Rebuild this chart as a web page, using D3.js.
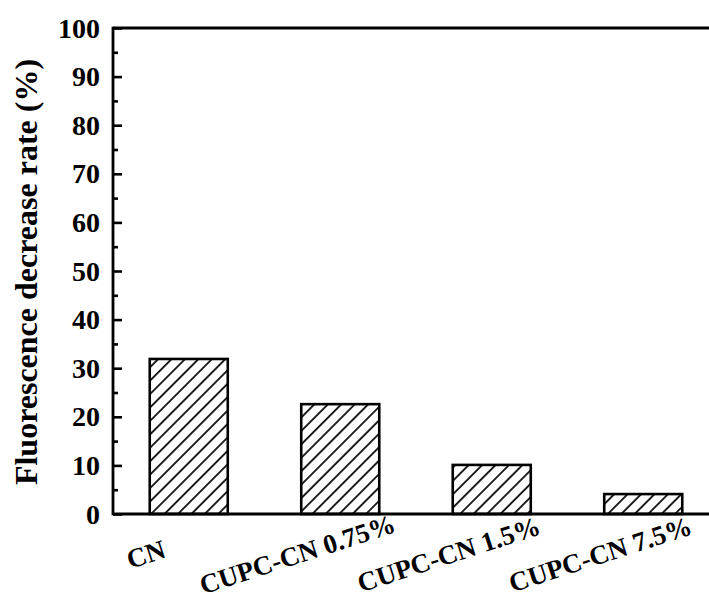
<!DOCTYPE html>
<html>
<head>
<meta charset="utf-8">
<script src="https://cdn.jsdelivr.net/npm/d3@7"></script>
<style>
  body { margin: 0; background: #fff; }
  svg text { font-family: "Liberation Serif", "Times New Roman", serif; font-weight: bold; }
</style>
</head>
<body>
<div id="chart"></div>
<script>
// Data
const categories = ["CN", "CUPC-CN 0.75%", "CUPC-CN 1.5%", "CUPC-CN 7.5%"];
const rates = [31.9, 22.6, 10.1, 4.1];
const yTicks = [0, 10, 20, 30, 40, 50, 60, 70, 80, 90, 100];
const yTitle = "Fluorescence decrease rate (%)";

const W = 709, H = 601;
const plot = { left: 113, top: 28, bottom: 514, right: 719 };

const svg = d3.select("#chart")
    .append("svg")
    .attr("width", W)
    .attr("height", H);

// hatch pattern "/"
const defs = svg.append("defs");
const pat = defs.append("pattern")
    .attr("id", "hatch")
    .attr("patternUnits", "userSpaceOnUse")
    .attr("width", 9.5)
    .attr("height", 10)
    .attr("patternTransform", "rotate(45)");
pat.append("line")
    .attr("x1", 4.75).attr("y1", 0)
    .attr("x2", 4.75).attr("y2", 10)
    .attr("stroke", "#000")
    .attr("stroke-width", 1.7);

// Skala
const x = d3.scaleBand()
    .domain(categories)
    .range([plot.left, plot.right])
    .paddingInner(0.485)
    .paddingOuter(0.2425);

const y = d3.scaleLinear()
    .domain([0, 100])
    .range([plot.bottom, plot.top]);

// Bars
svg.selectAll("rect.bar")
    .data(categories)
    .join("rect")
    .attr("class", "bar")
    .attr("x", d => x(d))
    .attr("y", (d, i) => y(rates[i]))
    .attr("width", x.bandwidth())
    .attr("height", (d, i) => plot.bottom - y(rates[i]))
    .attr("fill", "url(#hatch)")
    .attr("stroke", "#000")
    .attr("stroke-width", 2.6);

// Left axis, ticks inward
const yAxis = svg.append("g")
    .attr("transform", `translate(${plot.left},0)`)
    .call(d3.axisRight(y).tickValues(yTicks).tickSize(9).tickFormat(""));
yAxis.select(".domain").remove();
yAxis.selectAll(".tick line").attr("stroke-width", 2.6);

const minor = svg.append("g")
    .attr("transform", `translate(${plot.left},0)`)
    .call(d3.axisRight(y).tickValues(d3.range(5, 100, 10)).tickSize(5).tickFormat(""));
minor.select(".domain").remove();
minor.selectAll(".tick line").attr("stroke-width", 2.6);

// tick labels
svg.append("g")
    .selectAll("text")
    .data(yTicks)
    .join("text")
    .attr("x", plot.left - 13)
    .attr("y", d => y(d))
    .attr("dy", "0.34em")
    .attr("text-anchor", "end")
    .style("font-size", "28px")
    .text(d => d);

// frame lines
svg.append("line")
    .attr("x1", plot.left).attr("x2", plot.left)
    .attr("y1", plot.top - 1.3).attr("y2", plot.bottom + 1.3)
    .attr("stroke", "#000").attr("stroke-width", 2.8);
svg.append("line")
    .attr("x1", plot.left).attr("x2", W)
    .attr("y1", plot.top).attr("y2", plot.top)
    .attr("stroke", "#000").attr("stroke-width", 2.8);
svg.append("line")
    .attr("x1", plot.left).attr("x2", W)
    .attr("y1", plot.bottom).attr("y2", plot.bottom)
    .attr("stroke", "#000").attr("stroke-width", 2.8);

// x labels, rotated
svg.append("g")
    .selectAll("text")
    .data(categories)
    .join("text")
    .attr("transform", d => `translate(${x(d) + x.bandwidth() / 2 - 43},554) rotate(-18)`)
    .attr("dy", "0.35em")
    .attr("text-anchor", "middle")
    .style("font-size", "27px")
    .text(d => d);

// y title
svg.append("text")
    .attr("transform", `translate(37,${(plot.top + plot.bottom) / 2 + 1}) rotate(-90)`)
    .attr("text-anchor", "middle")
    .style("font-size", "32px")
    .text(yTitle);
</script>
</body>
</html>
